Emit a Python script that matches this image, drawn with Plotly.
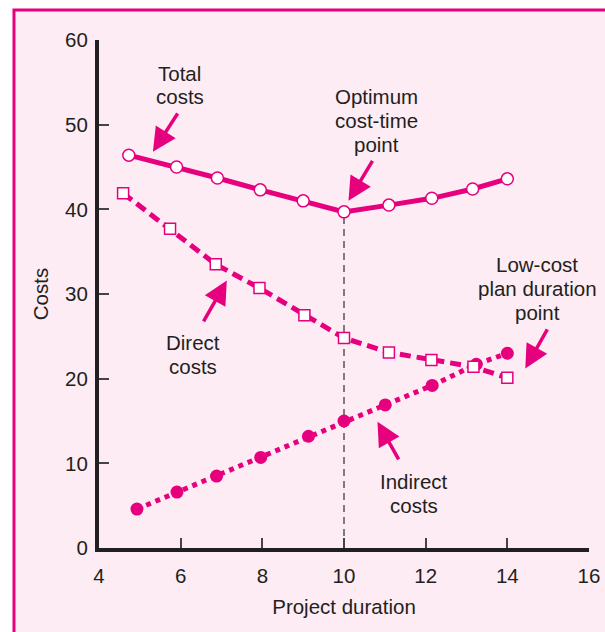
import plotly.graph_objects as go

# ---- data ----
total_x = [4.73, 5.9, 6.9, 7.95, 9.0, 10.0, 11.1, 12.15, 13.15, 14.0]
total_y = [46.4, 45.0, 43.7, 42.3, 41.0, 39.7, 40.5, 41.3, 42.4, 43.6]

direct_x = [4.59, 5.74, 6.86, 7.93, 9.03, 10.0, 11.1, 12.14, 13.17, 14.0]
direct_y = [41.9, 37.7, 33.5, 30.7, 27.5, 24.8, 23.1, 22.2, 21.4, 20.1]

indirect_x = [4.93, 5.91, 6.88, 7.96, 9.13, 10.0, 11.01, 12.16, 13.24, 14.0]
indirect_y = [4.6, 6.6, 8.5, 10.7, 13.2, 15.0, 16.9, 19.2, 21.7, 23.0]

optimum_x = 10.0
optimum_y = 39.7

x_ticks = [4, 6, 8, 10, 12, 14, 16]
y_ticks = [0, 10, 20, 30, 40, 50, 60]

# labels: (lines, text_x, first_line_y, arrow_tail_x, arrow_tail_y, arrow_head_x, arrow_head_y)
labels = [
    (["Total", "costs"], 5.98, 56.1, 5.95, 51.5, 5.32, 46.8),
    (["Optimum", "cost-time", "point"], 10.79, 53.3, 10.72, 45.9, 10.11, 41.0),
    (["Low-cost", "plan duration", "point"], 14.73, 33.5, 15.0, 26.0, 14.44, 21.2),
    (["Direct", "costs"], 6.3, 24.3, 6.54, 26.6, 7.13, 31.6),
    (["Indirect", "costs"], 11.72, 7.9, 11.36, 10.3, 10.82, 14.9),
]
LINE_STEP = 2.83  # vertical distance between label lines, in cost units

MAGENTA = "#E6007E"
BG = "#FDECF4"
TEXT = "#231F20"
FONT = "Liberation Sans, Arial, sans-serif"

fig = go.Figure()

# dashed guide to the optimum point
fig.add_trace(go.Scatter(
    x=[optimum_x, optimum_x], y=[0, optimum_y], mode="lines",
    line=dict(color="#555555", width=1.5, dash="7px,5px"),
    hoverinfo="skip", showlegend=False))

fig.add_trace(go.Scatter(
    x=indirect_x, y=indirect_y, mode="lines+markers", name="Indirect costs",
    line=dict(color=MAGENTA, width=5, dash="dot"),
    marker=dict(symbol="circle", size=13, color=MAGENTA),
    showlegend=False))

fig.add_trace(go.Scatter(
    x=direct_x, y=direct_y, mode="lines+markers", name="Direct costs",
    line=dict(color=MAGENTA, width=5, dash="11px,6px"),
    marker=dict(symbol="square", size=11, color="white",
                line=dict(color=MAGENTA, width=1.5)),
    showlegend=False))

fig.add_trace(go.Scatter(
    x=total_x, y=total_y, mode="lines+markers", name="Total costs",
    line=dict(color=MAGENTA, width=5),
    marker=dict(symbol="circle", size=12, color="white",
                line=dict(color=MAGENTA, width=1.5)),
    showlegend=False))

annotations = []
for lines, tx, ty, ax, ay, hx, hy in labels:
    for i, line in enumerate(lines):
        annotations.append(dict(
            x=tx, y=ty - i * LINE_STEP, xref="x", yref="y", text=line,
            showarrow=False, font=dict(family=FONT, size=20.5, color=TEXT),
            align="center"))
    annotations.append(dict(
        x=hx, y=hy, xref="x", yref="y", ax=ax, ay=ay, axref="x", ayref="y",
        text="", showarrow=True, arrowhead=2, arrowsize=1.35, arrowwidth=3.5,
        arrowcolor=MAGENTA, standoff=0, startstandoff=0))

fig.update_layout(
    width=612, height=632,
    margin=dict(l=99, r=16, t=40, b=84),
    paper_bgcolor="white",
    plot_bgcolor="rgba(0,0,0,0)",
    font=dict(family=FONT, size=20, color=TEXT),
    annotations=annotations,
    shapes=[dict(type="rect", xref="paper", yref="paper",
                 x0=-0.1735, x1=1.1, y0=-0.2, y1=1.059,
                 fillcolor=BG, line=dict(color=MAGENTA, width=3),
                 layer="below")],
)

fig.update_xaxes(
    range=[4, 16], tickvals=x_ticks, ticktext=[str(v) for v in x_ticks],
    showgrid=False, zeroline=False,
    showline=True, linecolor="#231F20", linewidth=4,
    ticks="inside", ticklen=10, tickwidth=1.5, tickcolor="#444444",
    ticklabelstandoff=6,
    tickfont=dict(family=FONT, size=20.5, color=TEXT),
    title=dict(text="Project duration", standoff=15,
               font=dict(family=FONT, size=20.5, color=TEXT)))

fig.update_yaxes(
    range=[0, 60], tickvals=y_ticks, ticktext=[str(v) for v in y_ticks],
    showgrid=False, zeroline=False,
    showline=True, linecolor="#231F20", linewidth=4,
    ticks="inside", ticklen=10, tickwidth=1.5, tickcolor="#444444",
    ticklabelstandoff=3,
    tickfont=dict(family=FONT, size=20.5, color=TEXT),
    title=dict(text="Costs", standoff=12,
               font=dict(family=FONT, size=20.5, color=TEXT)))

fig.write_html(
    "out.html",
    config={"displayModeBar": False},
    post_script="document.body.style.margin='0';document.body.style.overflow='hidden';",
)
